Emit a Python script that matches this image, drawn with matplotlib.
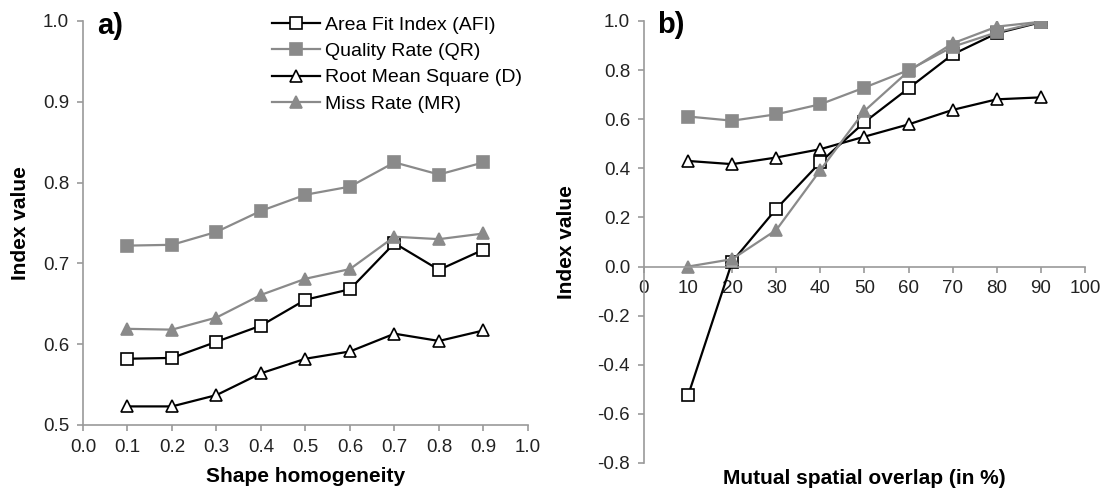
import matplotlib.pyplot as plt
from matplotlib.lines import Line2D

plt.rcParams['font.family'] = ['Liberation Sans', 'DejaVu Sans']

# panel a) shape homogeneity
homog = [0.1, 0.2, 0.3, 0.4, 0.5, 0.6, 0.7, 0.8, 0.9]
afi_a = [0.582, 0.583, 0.603, 0.623, 0.655, 0.668, 0.725, 0.692, 0.717]
qr_a = [0.722, 0.723, 0.739, 0.765, 0.785, 0.795, 0.825, 0.810, 0.825]
d_a = [0.523, 0.523, 0.537, 0.564, 0.582, 0.591, 0.613, 0.604, 0.617]
mr_a = [0.619, 0.618, 0.633, 0.661, 0.681, 0.693, 0.733, 0.730, 0.737]

# panel b) mutual spatial overlap
overlap = [10, 20, 30, 40, 50, 60, 70, 80, 90]
afi_b = [-0.525, 0.02, 0.235, 0.425, 0.588, 0.726, 0.864, 0.950, 0.995]
qr_b = [0.611, 0.594, 0.620, 0.661, 0.729, 0.800, 0.895, 0.954, 0.997]
d_b = [0.430, 0.417, 0.444, 0.478, 0.529, 0.579, 0.638, 0.681, 0.689]
mr_b = [0.0, 0.030, 0.149, 0.393, 0.634, 0.796, 0.909, 0.977, 0.997]

labels = ['Area Fit Index (AFI)', 'Quality Rate (QR)',
          'Root Mean Square (D)', 'Miss Rate (MR)']
xticks_a = [i / 10 for i in range(11)]
yticks_a = [0.5, 0.6, 0.7, 0.8, 0.9, 1.0]
xticks_b = list(range(0, 101, 10))
yticks_b = [-0.8, -0.6, -0.4, -0.2, 0.0, 0.2, 0.4, 0.6, 0.8, 1.0]

GREY = '#8a8a8a'
AX = '#9a9a9a'
styles = [
    dict(color='black', marker='s', mfc='white', mec='black'),
    dict(color=GREY, marker='s', mfc=GREY, mec=GREY),
    dict(color='black', marker='^', mfc='white', mec='black'),
    dict(color=GREY, marker='^', mfc=GREY, mec=GREY),
]
common = dict(lw=1.6, ms=9, mew=1.2)

fig = plt.figure(figsize=(11.05, 4.94), dpi=100)
ax1 = fig.add_axes([0.0751, 0.1397, 0.4027, 0.8178])
ax2 = fig.add_axes([0.5828, 0.0628, 0.3991, 0.8947])


def style_axes(ax):
    for s in ['top', 'right']:
        ax.spines[s].set_visible(False)
    for s in ['left', 'bottom']:
        ax.spines[s].set_color(AX)
        ax.spines[s].set_linewidth(1.2)
    ax.tick_params(colors=AX, labelcolor='#222222', labelsize=13.5,
                   length=4, width=1.2, direction='out', pad=6)


for ys, st in zip([afi_a, qr_a, d_a, mr_a], styles):
    ax1.plot(homog, ys, **st, **common)
ax1.set_xlim(0, 1.0)
ax1.set_ylim(0.5, 1.0)
ax1.set_xticks(xticks_a)
ax1.set_xticklabels([f'{v:.1f}' for v in xticks_a])
ax1.set_yticks(yticks_a)
ax1.set_yticklabels([f'{v:.1f}' for v in yticks_a])
style_axes(ax1)
ax1.set_xlabel('Shape homogeneity', fontsize=15, fontweight='bold')
ax1.xaxis.set_label_coords(0.5, -0.105)
ax1.set_ylabel('Index value', fontsize=15, fontweight='bold')
ax1.yaxis.set_label_coords(-0.12, 0.5)
ax1.text(0.031, 1.022, 'a)', transform=ax1.transAxes, fontsize=21,
         fontweight='bold', va='top', ha='left')

handles = [Line2D([], [], **st, **common) for st in styles]
ax1.legend(handles, labels, loc='upper left', bbox_to_anchor=(0.425, 1.012),
           frameon=False, fontsize=14, handlelength=2.45, handletextpad=0.28,
           labelspacing=0.45, borderaxespad=0, borderpad=0)

for ys, st in zip([afi_b, qr_b, d_b, mr_b], styles):
    ax2.plot(overlap, ys, **st, **common)
ax2.set_xlim(0, 100)
ax2.set_ylim(-0.8, 1.0)
ax2.set_xticks(xticks_b)
ax2.set_yticks(yticks_b)
ax2.set_yticklabels([f'{v:.1f}' for v in yticks_b])
style_axes(ax2)
ax2.spines['bottom'].set_position(('data', 0))
ax2.set_xlabel('Mutual spatial overlap (in %)', fontsize=15,
               fontweight='bold')
ax2.xaxis.set_label_coords(0.5, -0.014)
ax2.set_ylabel('Index value', fontsize=15, fontweight='bold')
ax2.yaxis.set_label_coords(-0.155, 0.5)
ax2.text(0.03, 1.022, 'b)', transform=ax2.transAxes, fontsize=21,
         fontweight='bold', va='top', ha='left')

fig.savefig('out.png', dpi=100)
